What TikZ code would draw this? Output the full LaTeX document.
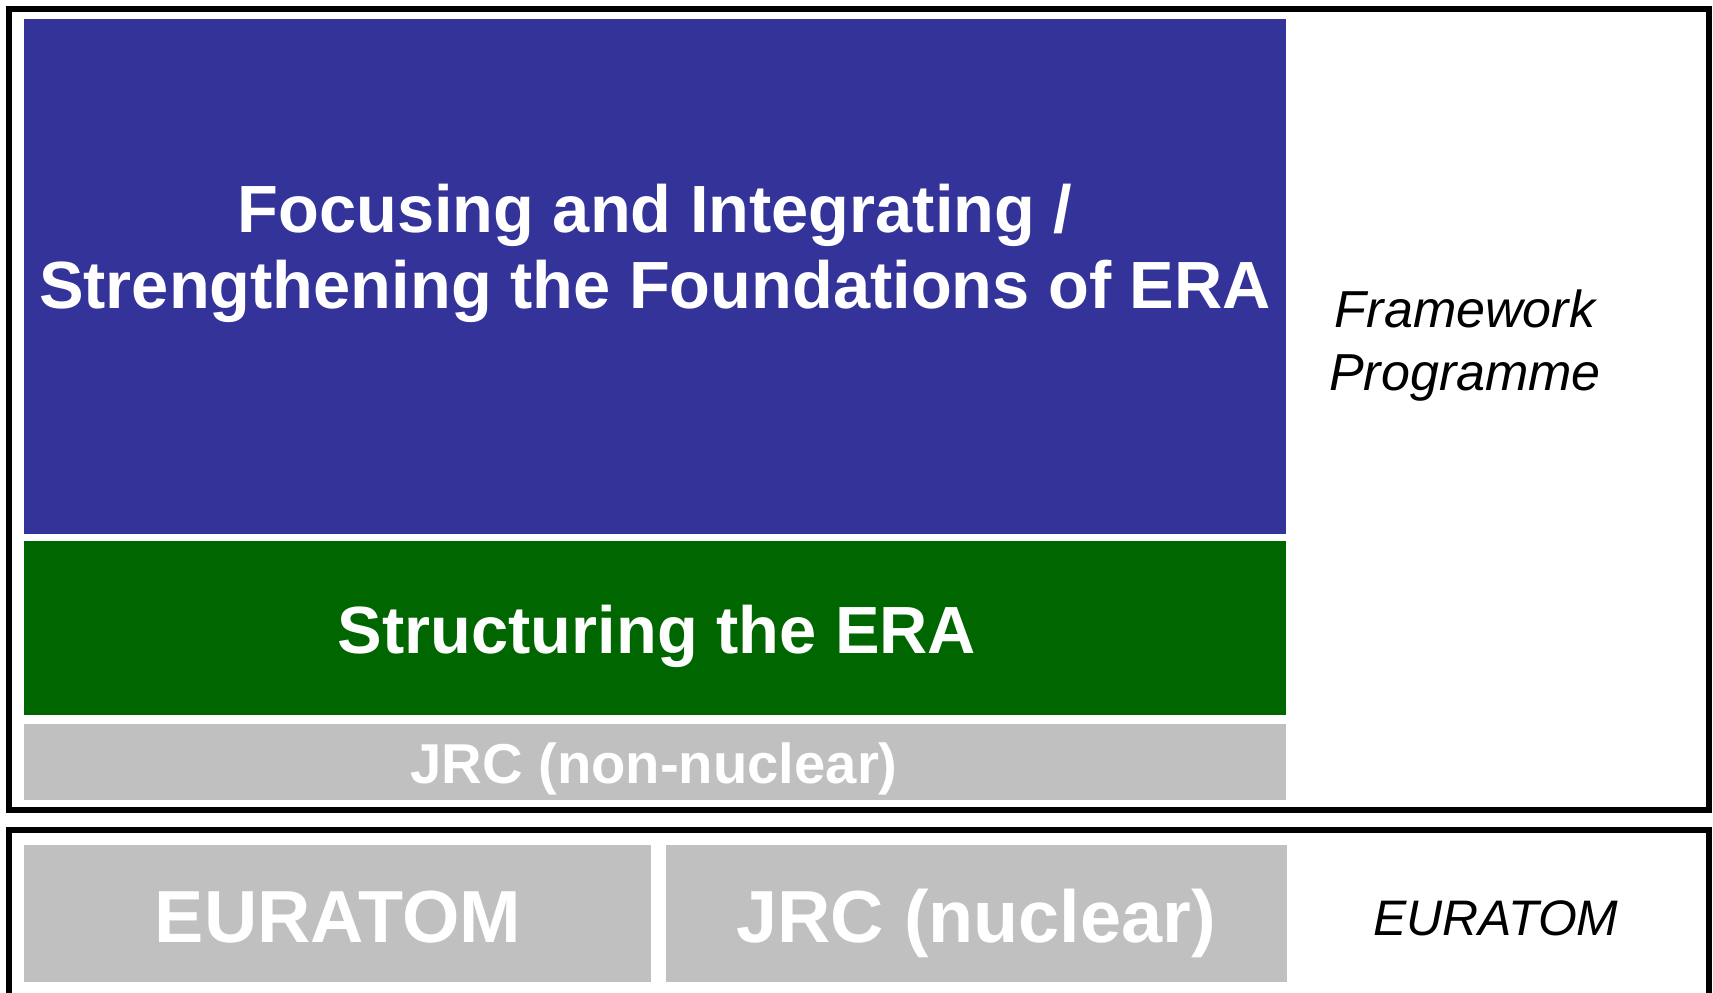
\documentclass[tikz,border=0pt]{standalone}
\usepackage{fontspec}
\setmainfont{Liberation Sans}
\usetikzlibrary{positioning}
\definecolor{eraBlue}{HTML}{333399}
\definecolor{eraGreen}{HTML}{006600}
\definecolor{eraGray}{HTML}{C0C0C0}

\begin{document}
\begin{tikzpicture}[x=1cm, y=-1cm,
    blk/.style = {fill=#1, draw=none, anchor=north west, inner sep=0pt, outer sep=0pt, minimum width=12.62cm},
    frame/.style = {draw, line width=1.7pt},
    head/.style = {text=white, anchor=base, align=center, inner sep=0pt, font=\bfseries\fontsize{19}{21.6}\selectfont},
    side/.style = {anchor=base, align=center, inner sep=0pt, font=\itshape\fontsize{14.8}{17.9}\selectfont}]
      \clip (0,0) rectangle (17.13,9.92);
      \fill[white] (0,0) rectangle (17.13,9.92);

      \draw[frame] (0.09,0.09) rectangle (17.09,8.10);
      \draw[frame] (0.09,8.295) rectangle (17.09,10.3);

      \node[blk=eraBlue, minimum height=5.15cm] (focus) at (0.24,0.19) {};
      \node[blk=eraGreen, minimum height=1.74cm, below=0.07cm of focus] (struct) {};
      \node[blk=eraGray, minimum height=0.76cm, below=0.09cm of struct] (jrcnon) {};
      \node[blk=eraGray, minimum height=1.37cm, minimum width=6.27cm] (eur) at (0.24,8.45) {};
      \node[blk=eraGray, minimum height=1.37cm, minimum width=6.21cm, right=0.15cm of eur] (jrcnuc) {};

      \node[head] (focustxt) at (6.55,3.08) {Focusing and Integrating /\\Strengthening the Foundations of ERA};
      \node[head] (structtxt) at (6.57,6.53) {Structuring the ERA};
      \node[head, font=\bfseries\fontsize{16}{18}\selectfont] (jrcnontxt) at (6.54,7.83) {JRC (non-nuclear)};
      \node[head, font=\bfseries\fontsize{21}{25}\selectfont] (eurtxt) at (3.38,9.42) {EURATOM};
      \node[head, font=\bfseries\fontsize{21}{25}\selectfont] (jrcnuctxt) at (9.76,9.42) {JRC (nuclear)};

      \node[side] (fptxt) at (14.65,3.90) {Framework\\Programme};
      \node[side, font=\itshape\fontsize{14.2}{17}\selectfont] (eurside) at (14.96,9.35) {EURATOM};
    \end{tikzpicture}
\end{document}
